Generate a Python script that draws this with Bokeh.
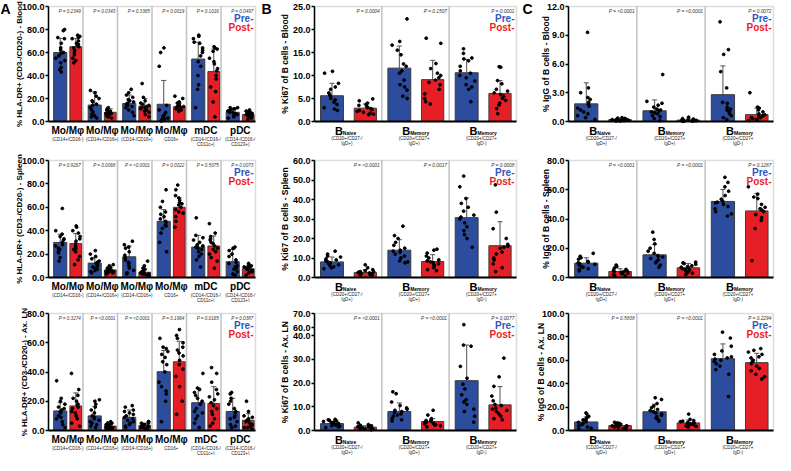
from bokeh.plotting import figure
from bokeh.models import (ColumnDataSource, Range1d, FixedTicker, PrintfTickFormatter,
                          CustomJSTickFormatter, BoxAnnotation, Label, Whisker, TeeHead,
                          CustomJSTransform)
from bokeh.transform import jitter, transform
from bokeh.layouts import gridplot
from bokeh.embed import file_html
from bokeh.resources import INLINE

# ---------------- categories / labels ----------------
A_LABELS = ["Mo/Mφ", "Mo/Mφ", "Mo/Mφ", "Mo/Mφ", "mDC", "pDC"]
A_SUB1 = ["(CD14+/CD16-)", "(CD14+/CD16+)", "(CD14-/CD16+)", "CD16+", "(CD14-/CD16-/", "(CD14-/CD16-/"]
A_SUB2 = ["", "", "", "", "CD11c+)", "CD123+)"]
B_LABELS = ["B", "B", "B"]
B_SUBSCRIPTS = ["Naive", "Memory", "Memory"]
B_SUB1 = ["(CD20+/CD27-/", "(CD20+/CD27+", "(CD20+/CD27+"]
B_SUB2 = ["IgD+)", "IgD+)", "IgD-)"]
LEGEND = ["Pre-", "Post-"]

# ---------------- Panel A : HLA-DR+ ----------------
A1_YLABEL = "% HLA-DR+ (CD3-/CD20-) - Blood"
A1_YTICKS = [0, 20, 40, 60, 80, 100]
A1_P = ["0.2349", "0.0343", "0.3365", "0.0019", "0.1016", "0.0497"]
A1_PRE_MEAN = [60.0, 14.3, 15.7, 15.0, 54.3, 8.0]
A1_PRE_SD = [12.3, 11.4, 7.3, 20.7, 14.7, 3.0]
A1_POST_MEAN = [65.0, 8.0, 13.5, 12.9, 43.4, 6.0]
A1_POST_SD = [7.0, 3.0, 6.5, 3.1, 19.6, 3.0]
A1_PRE_PTS = [
    [80, 79, 73, 72, 68, 64, 62, 60, 59, 57, 55, 53, 51, 47, 45, 43],
    [27, 25, 22, 20, 18, 17, 15, 14, 12, 10, 8, 6, 5, 4, 3],
    [28, 25, 23, 21, 19, 18, 17, 16, 15, 14, 13, 12, 10, 8, 5],
    [64, 60, 48, 14, 10, 8, 6, 5, 4, 3, 2, 2, 1, 1, 0.5],
    [75, 74, 72, 69, 68, 64, 62, 60, 57, 52, 48, 40, 32, 28, 12],
    [12, 12, 11, 11, 10, 10, 9, 9, 8, 8, 7, 6, 5, 4, 3],
]
A1_POST_PTS = [
    [75, 74, 73, 72, 70, 68, 67, 66, 65, 64, 62, 60, 58, 55, 53, 51],
    [12, 11, 10, 9, 9, 8, 8, 7, 7, 6, 6, 5, 5, 4, 3],
    [33, 21, 18, 16, 15, 14, 13, 12, 12, 11, 10, 9, 8, 6, 4],
    [22, 20, 17, 16, 15, 14, 13, 13, 12, 12, 11, 11, 10, 10, 9],
    [65, 64, 63, 61, 55, 52, 50, 46, 44, 40, 37, 30, 26, 17, 4],
    [10, 9, 9, 8, 8, 7, 7, 6, 6, 5, 5, 4, 4, 3, 2],
]

A2_YLABEL = "% HLA-DR+ (CD3-/CD20-) - Spleen"
A2_YTICKS = [0, 20, 40, 60, 80, 100]
A2_P = ["0.9267", "0.0068", "<0.0001", "0.0022", "0.5075", "0.0073"]
A2_PRE_MEAN = [30.0, 12.3, 17.7, 48.0, 26.0, 13.5]
A2_PRE_SD = [7.0, 4.7, 9.3, 10.0, 10.0, 10.5]
A2_POST_MEAN = [29.0, 6.5, 4.5, 60.0, 27.0, 7.5]
A2_POST_SD = [8.5, 2.0, 2.5, 8.0, 8.5, 2.5]
A2_PRE_PTS = [
    [59, 40, 37, 35, 33, 32, 30, 28, 27, 25, 24, 22, 21, 17, 14],
    [23, 20, 18, 16, 14, 13, 12, 11, 10, 9, 8, 7, 6, 5, 4],
    [31, 28, 26, 25, 22, 19, 17, 15, 13, 12, 10, 8, 6, 4, 3],
    [75, 65, 60, 56, 54, 52, 50, 48, 47, 45, 44, 42, 38, 30, 22],
    [51, 36, 34, 32, 30, 28, 27, 26, 25, 24, 22, 20, 18, 15, 9],
    [26, 25, 23, 20, 18, 15, 13, 12, 10, 9, 8, 7, 5, 3, 2],
]
A2_POST_PTS = [
    [44, 43, 40, 38, 35, 33, 31, 29, 27, 25, 24, 22, 18, 15, 11],
    [11, 10, 9, 8, 7, 7, 6, 6, 6, 5, 5, 5, 4, 4, 3],
    [14, 10, 8, 7, 6, 5, 4, 4, 4, 3, 3, 3, 2, 2, 1],
    [79, 75, 70, 68, 66, 64, 63, 62, 60, 58, 56, 55, 52, 48, 43],
    [46, 38, 35, 33, 32, 30, 29, 27, 25, 24, 22, 20, 17, 14, 8],
    [12, 11, 10, 9, 9, 8, 8, 7, 7, 6, 6, 5, 5, 4, 2],
]

A3_YLABEL = "% HLA-DR+ (CD3-/CD20-) - Ax. LN"
A3_YTICKS = [0, 20, 40, 60, 80]
A3_P = ["0.3274", "<0.0001", "<0.0001", "0.1964", "0.0165", "0.0387"]
A3_PRE_MEAN = [13.4, 10.0, 9.0, 40.2, 19.0, 13.0]
A3_PRE_SD = [5.6, 6.5, 5.0, 14.5, 10.0, 9.0]
A3_POST_MEAN = [16.8, 3.0, 3.5, 47.0, 18.5, 7.0]
A3_POST_SD = [8.9, 2.0, 1.5, 14.0, 11.5, 4.5]
A3_PRE_PTS = [
    [34, 22, 20, 18, 16, 15, 14, 13, 12, 10, 9, 8, 6, 4, 2],
    [21, 20, 18, 16, 14, 12, 10, 9, 8, 7, 6, 5, 4, 3, 2],
    [17, 16, 14, 13, 12, 11, 10, 9, 8, 7, 6, 5, 4, 3, 2],
    [63, 57, 56, 54, 52, 50, 47, 45, 40, 33, 30, 27, 25, 20, 6],
    [39, 29, 28, 26, 24, 22, 20, 18, 15, 13, 12, 10, 8, 5, 2],
    [26, 25, 22, 20, 18, 15, 13, 12, 10, 9, 8, 6, 4, 3, 2],
]
A3_POST_PTS = [
    [39, 28, 24, 22, 20, 18, 17, 16, 15, 13, 12, 10, 8, 5, 3],
    [6, 5, 5, 5, 4, 4, 3, 3, 3, 2, 2, 2, 2, 1, 1],
    [6, 6, 5, 5, 4, 4, 4, 3, 3, 3, 2, 2, 2, 1, 1],
    [69, 65, 63, 60, 57, 55, 53, 51, 48, 45, 42, 37, 30, 20, 11],
    [43, 39, 33, 28, 25, 23, 21, 19, 17, 15, 13, 11, 8, 5, 3],
    [20, 13, 10, 9, 8, 7, 7, 6, 5, 4, 4, 3, 2, 2, 1],
]

# ---------------- Panel B : Ki67 ----------------
B1_YLABEL = "% Ki67 of B cells - Blood"
B1_YTICKS = [0, 5, 10, 15, 20, 25]
B1_P = ["0.0004", "0.1507", "0.0001"]
B1_PRE_MEAN = [5.6, 11.6, 10.6]
B1_PRE_SD = [2.7, 4.8, 2.9]
B1_POST_MEAN = [2.9, 9.1, 6.1]
B1_POST_SD = [0.9, 4.2, 2.8]
B1_PRE_PTS = [
    [10.9, 10.5, 8.3, 7.5, 7.0, 6.2, 5.8, 5.5, 5.0, 4.7, 4.2, 3.7, 3.0, 2.7, 2.4],
    [22.3, 17.4, 16.6, 15.5, 14.5, 12.5, 12.0, 11.0, 10.5, 9.0, 8.0, 7.5, 6.8, 5.5, 5.0],
    [15.8, 14.8, 13.8, 13.6, 13.2, 12.0, 11.0, 10.5, 10.0, 9.5, 8.8, 8.0, 7.5, 7.0, 4.3],
]
B1_POST_PTS = [
    [4.9, 4.5, 4.0, 3.7, 3.5, 3.2, 3.0, 2.8, 2.6, 2.4, 2.2, 2.0, 1.8, 1.6, 1.5],
    [18.1, 17.0, 12.6, 11.5, 10.5, 10.0, 9.5, 9.0, 8.5, 8.0, 7.0, 6.0, 5.0, 4.3, 3.8],
    [11.9, 11.8, 8.9, 8.2, 7.0, 6.6, 6.2, 5.8, 5.5, 5.0, 4.6, 4.0, 3.6, 2.8, 1.7],
]

B2_YLABEL = "% Ki67 of B cells - Spleen"
B2_YTICKS = [0, 10, 20, 30, 40, 50, 60]
B2_P = ["<0.0001", "0.0017", "0.0008"]
B2_PRE_MEAN = [8.0, 14.0, 30.7]
B2_PRE_SD = [2.5, 5.4, 10.1]
B2_POST_MEAN = [2.6, 8.2, 16.3]
B2_POST_SD = [1.4, 3.5, 12.3]
B2_PRE_PTS = [
    [13.5, 12, 11, 10.5, 9.5, 9, 8.5, 8, 7.5, 7, 6.5, 6, 5.5, 5, 4.5],
    [26.3, 21.5, 20, 18, 16.5, 15, 14, 13.5, 13, 12, 11, 10, 8.5, 8, 7.5],
    [52, 46.5, 40.5, 38, 36, 34, 32, 31, 30, 28, 26, 24, 22, 20, 15.5],
]
B2_POST_PTS = [
    [6.5, 5, 4, 3.5, 3, 3, 2.7, 2.5, 2.3, 2, 2, 1.8, 1.5, 1.2, 1],
    [14.5, 14, 12.5, 11, 10, 9, 8.5, 8, 7.5, 7, 6.5, 6, 5, 4, 3.5],
    [47.5, 33.5, 25, 20, 17, 16, 15.5, 15, 13, 12, 10, 9, 7, 5, 3],
]

B3_YLABEL = "% Ki67 of B cells - Ax. LN"
B3_YTICKS = [0, 10, 20, 30, 40, 60, 70]
B3_P = ["<0.0001", "<0.0001", "0.0077"]
B3_PRE_MEAN = [2.9, 8.0, 21.0]
B3_PRE_SD = [0.9, 3.6, 15.0]
B3_POST_MEAN = [1.4, 3.8, 10.8]
B3_POST_SD = [0.6, 1.2, 7.7]
B3_PRE_PTS = [
    [4.7, 4.5, 4.3, 4.0, 3.8, 3.5, 3.3, 3.0, 2.8, 2.5, 2.3, 2.0, 1.8, 1.5, 1.2],
    [16.3, 15.5, 12, 10.5, 9.5, 9, 8.5, 8, 7.5, 7, 6.5, 6, 5, 4.5, 4],
    [62, 36, 35.5, 27, 22, 19.5, 17.5, 15, 13, 12, 11, 9, 8, 6, 3.5],
]
B3_POST_PTS = [
    [3.2, 2.5, 2.2, 2, 1.8, 1.6, 1.5, 1.4, 1.2, 1, 0.9, 0.8, 0.6, 0.5, 0.3],
    [8.5, 6.5, 5, 4.5, 4.2, 4, 3.8, 3.5, 3.2, 3, 2.8, 2.5, 2.2, 2, 1.5],
    [30.5, 22.6, 18.6, 14.5, 12.5, 11, 10.5, 9.5, 9, 8.5, 8, 7, 6, 5, 4.5],
]

# ---------------- Panel C : IgG ----------------
C1_YLABEL = "% IgG of B cells - Blood"
C1_YTICKS = [0, 3, 6, 9, 12]
C1_P = ["<0.0001", "<0.0001", "0.0072"]
C1_PRE_MEAN = [1.84, 1.12, 2.8]
C1_PRE_SD = [2.2, 1.13, 3.0]
C1_POST_MEAN = [0.2, 0.15, 0.72]
C1_POST_SD = [0.1, 0.1, 0.68]
C1_PRE_PTS = [
    [9.3, 3.5, 3.0, 2.5, 2.3, 2.0, 1.8, 1.6, 1.4, 1.2, 1.0, 0.8, 0.6, 0.4, 0.2],
    [4.9, 2.1, 1.9, 1.7, 1.5, 1.3, 1.2, 1.1, 1.0, 0.9, 0.8, 0.6, 0.5, 0.3, 0.1],
    [10.4, 7.5, 7.0, 5.2, 3.5, 2.0, 1.9, 1.5, 1.3, 1.2, 1.0, 0.8, 0.6, 0.4, 0.2],
]
C1_POST_PTS = [
    [0.4, 0.35, 0.3, 0.3, 0.25, 0.2, 0.2, 0.2, 0.15, 0.15, 0.1, 0.1, 0.1, 0.05, 0.05],
    [0.45, 0.3, 0.25, 0.2, 0.2, 0.15, 0.15, 0.1, 0.1, 0.1, 0.1, 0.05, 0.05, 0.05, 0.02],
    [3.0, 1.5, 1.4, 1.2, 1.0, 0.8, 0.7, 0.6, 0.5, 0.4, 0.4, 0.3, 0.2, 0.15, 0.1],
]

C2_YLABEL = "% IgG of B cells - Spleen"
C2_YTICKS = [0, 20, 40, 60, 80]
C2_P = ["<0.0001", "<0.0001", "0.1287"]
C2_PRE_MEAN = [9.8, 15.5, 52.0]
C2_PRE_SD = [3.7, 7.0, 8.2]
C2_POST_MEAN = [4.1, 6.6, 45.5]
C2_POST_SD = [1.9, 2.9, 12.0]
C2_PRE_PTS = [
    [16.5, 14.5, 13.5, 12.5, 11, 10.5, 10, 9.5, 9, 8.5, 7.5, 7, 6, 5.5, 4.5],
    [31, 26, 23, 20, 18, 16.5, 15, 14.5, 14, 13, 12, 11, 10, 8.5, 7],
    [68.5, 65, 62, 59, 56, 53.5, 52, 51.5, 51, 50, 48.5, 47, 45, 43.5, 42],
]
C2_POST_PTS = [
    [8.5, 7.5, 6.5, 5.5, 5, 4.5, 4, 4, 3.5, 3, 3, 2.5, 2, 1.5, 1],
    [10.5, 10, 9.5, 9, 8, 7.5, 7, 6.5, 6, 5.5, 5, 4.5, 3.5, 3, 2],
    [62, 57, 55, 54, 50, 48, 47, 46.5, 46, 45, 43, 41, 39, 33.5, 11.5],
]

C3_YLABEL = "% IgG of B cells - Ax. LN"
C3_YTICKS = [0, 20, 40, 60, 80, 100]
C3_P = ["0.5838", "<0.0001", "0.2294"]
C3_PRE_MEAN = [7.3, 16.0, 61.4]
C3_PRE_SD = [4.2, 6.5, 12.6]
C3_POST_MEAN = [4.2, 6.5, 58.0]
C3_POST_SD = [1.8, 2.5, 8.0]
C3_PRE_PTS = [
    [15, 14, 12, 11, 10, 9, 8, 7.5, 7, 6, 5, 4, 3, 2, 1.5],
    [28, 26.5, 23, 21, 19.5, 18, 17, 16, 15, 14, 13, 12, 10.5, 9, 8],
    [84, 79, 72, 68, 65, 63, 62, 61, 60, 59, 57, 55, 52, 48, 29],
]
C3_POST_PTS = [
    [7, 6.5, 6, 5.5, 5, 5, 4.5, 4.5, 4, 4, 3.5, 3, 2.5, 2, 1.5],
    [14, 9.5, 8.5, 8, 7.5, 7, 6.5, 6, 6, 5.5, 5, 4.5, 4, 3.5, 3],
    [70, 68.5, 67, 65, 63, 62, 60, 59, 57, 55, 53, 51, 48, 46, 44],
]

# ---------------- style / layout ----------------
FONT = "Liberation Sans"
BLUE = "#2C4C9E"
RED = "#E61E26"
BLUE_TXT = "#2F57BD"
RED_TXT = "#EE1C25"
GRAY = "#8a8a8a"
COL_W = [258, 262, 255]      # figure widths
COL_LEFT = [48, 56, 48]      # px from figure left to the y axis
COL_RIGHT = [3, 4, 2]        # px right of the plot box
COL_LSTAND = [-5, 0, -7]     # y-axis label standoff
COL_LSIZE = ["8px", "8.5px", "8.5px"]
COL_LETTER_X = [0, 3, 2]
ROW_TOP = [6, 9, 11]
ROW_PLOT = [115, 117, 117]
ROW_BOTTOM = [30, 25, 25]

# broken axis (40 -> 60) used in the Ki67 Ax. LN panel
BRK_LO, BRK_HI, BRK_POS, BRK_K = 40, 60, 43.4, 0.59


def brk(v):
    return v if v <= BRK_LO else BRK_POS + (v - BRK_HI) * BRK_K


BRK_JS = CustomJSTransform(
    func=f"return x <= {BRK_LO} ? x : {BRK_POS} + (x - {BRK_HI}) * {BRK_K};",
    v_func=f"""
const out = new Float64Array(xs.length);
for (let i = 0; i < xs.length; i++) {{
  const v = xs[i];
  out[i] = v <= {BRK_LO} ? v : {BRK_POS} + (v - {BRK_HI}) * {BRK_K};
}}
return out;
""")


def txt(p, text, x, y, size, color="black", style="normal", align="center", x_offset=0,
        x_units="data"):
    p.add_layout(Label(x=x, x_units=x_units, y=y, y_units="screen", x_offset=x_offset,
                       text=text, text_align=align, text_baseline="top", text_font=FONT,
                       text_font_size=size, text_font_style=style, text_color=color))


def panel(kind, col, row, pre_mean, pre_sd, post_mean, post_sd, pre_pts, post_pts,
          pvals, yticks, ylabel, letter=None, broken=False):
    isA = kind == "A"
    labels = A_LABELS if isA else B_LABELS
    n = len(labels)
    pre_off, post_off = (0.34, 0.79) if isA else (0.26, 0.755)
    pre_w, post_w = (0.38, 0.34) if isA else (0.34, 0.33)
    lab_pos = 0.56 if isA else 0.48

    W = COL_W[col]
    L, R = COL_LEFT[col], COL_RIGHT[col]
    F = W - L - R
    T, P, B = ROW_TOP[row], ROW_PLOT[row], ROW_BOTTOM[row]
    H = T + P + B
    yend = brk(yticks[-1]) if broken else yticks[-1]
    xr = Range1d(-L / F * n, n + R / F * n)
    yr = Range1d(-B / P * yend, yend + T / P * yend)

    p = figure(width=W, height=H, x_range=xr, y_range=yr,
               output_backend="svg", toolbar_location=None, min_border=0)
    p.xgrid.visible = False
    p.ygrid.visible = False
    p.outline_line_color = None
    p.background_fill_color = "white"
    p.border_fill_color = "white"

    # plot box + group separators
    for i in range(n):
        p.add_layout(BoxAnnotation(left=i, right=i + 1, bottom=0, top=yend, fill_alpha=0,
                                   line_color=GRAY, line_width=1.5, level="underlay"))

    # x axis (baseline only)
    xax = p.xaxis[0]
    xax.fixed_location = 0
    xax.bounds = (0, n)
    xax.ticker = FixedTicker(ticks=[])
    xax.major_label_text_font_size = "0px"
    xax.axis_line_width = 2
    xax.axis_line_color = "black"
    xax.major_tick_line_color = None
    xax.minor_tick_line_color = None

    # y axis
    yax = p.yaxis[0]
    yax.fixed_location = 0
    yax.bounds = (0, yend)
    if broken:
        yax.ticker = FixedTicker(ticks=[brk(t) for t in yticks])
        yax.formatter = CustomJSTickFormatter(
            code=f"return (tick <= {BRK_LO} ? tick : (tick - {BRK_POS}) / {BRK_K} + {BRK_HI}).toFixed(1);")
    else:
        yax.ticker = FixedTicker(ticks=yticks)
        yax.formatter = PrintfTickFormatter(format="%.1f")
    yax.axis_line_width = 1.5
    yax.axis_line_color = "black"
    yax.major_tick_out = 3
    yax.major_tick_in = 0
    yax.major_tick_line_width = 1.5
    yax.major_tick_line_color = "black"
    yax.minor_tick_line_color = None
    yax.major_label_standoff = 1
    yax.major_label_text_font = FONT
    yax.major_label_text_font_size = "9px"
    yax.major_label_text_font_style = "bold"
    yax.major_label_text_color = "black"
    yax.axis_label = ylabel
    yax.axis_label_text_font = FONT
    yax.axis_label_text_font_size = COL_LSIZE[col]
    yax.axis_label_text_font_style = "bold"
    yax.axis_label_text_color = "black"
    yax.axis_label_standoff = COL_LSTAND[col]

    def ymap(name):
        return transform(name, BRK_JS) if broken else name

    for means, sds, pts, off, w, color in (
            (pre_mean, pre_sd, pre_pts, pre_off, pre_w, BLUE),
            (post_mean, post_sd, post_pts, post_off, post_w, RED)):
        xs = [i + off for i in range(n)]
        src = ColumnDataSource(dict(x=xs, mean=means, up=[m + s for m, s in zip(means, sds)]))
        p.vbar(x="x", width=w, top=ymap("mean"), bottom=0, source=src,
               fill_color=color, line_color="#3c3c3c", line_width=1)
        p.add_layout(Whisker(base="x", upper="up", lower="mean", source=src, dimension="height",
                             line_color="#505050", line_width=1,
                             upper_head=TeeHead(size=5, line_color="#505050", line_width=1),
                             lower_head=None))
        px, pv = [], []
        for i, grp in enumerate(pts):
            for v in grp:
                px.append(i + off)
                pv.append(v)
        psrc = ColumnDataSource(dict(x=px, v=pv))
        p.scatter(x=jitter("x", width=w * 0.75, distribution="uniform"), y=ymap("v"),
                  size=2.8, color="black", source=psrc)

    top_s = B + P   # screen y of the plot-box top (from figure bottom)
    # P values
    for i, pv in enumerate(pvals):
        txt(p, f"P = {pv}", i + 1, top_s - 2, "4.6px" if isA else "4.8px", "#333333",
            "italic", "right", -2)
    # legend
    txt(p, LEGEND[0], n, top_s - 6, "10px", BLUE_TXT, "bold", "right", -2)
    txt(p, LEGEND[1], n, top_s - 15, "10px", RED_TXT, "bold", "right", -2)

    # x category labels
    for i in range(n):
        xc = i + lab_pos
        if isA:
            txt(p, A_LABELS[i], xc, B - 3, "10px", "black", "bold")
            s1, s2, y1 = A_SUB1[i], A_SUB2[i], B - 15
        else:
            txt(p, B_LABELS[i], xc, B - 3, "11px", "black", "bold", "right", -4)
            txt(p, B_SUBSCRIPTS[i], xc, B - 8.5, "5px", "black", "bold", "left", -4)
            s1, s2, y1 = B_SUB1[i], B_SUB2[i], B - 14
        txt(p, s1, xc, y1, "4.5px", "#222222")
        if s2:
            txt(p, s2, xc, y1 - 5, "4.5px", "#222222")

    if letter:
        txt(p, letter, COL_LETTER_X[col], H, "14px", "black", "bold", "left", 0, x_units="screen")
    return p


a1 = panel("A", 0, 0, A1_PRE_MEAN, A1_PRE_SD, A1_POST_MEAN, A1_POST_SD, A1_PRE_PTS, A1_POST_PTS,
           A1_P, A1_YTICKS, A1_YLABEL, letter="A")
a2 = panel("A", 0, 1, A2_PRE_MEAN, A2_PRE_SD, A2_POST_MEAN, A2_POST_SD, A2_PRE_PTS, A2_POST_PTS,
           A2_P, A2_YTICKS, A2_YLABEL)
a3 = panel("A", 0, 2, A3_PRE_MEAN, A3_PRE_SD, A3_POST_MEAN, A3_POST_SD, A3_PRE_PTS, A3_POST_PTS,
           A3_P, A3_YTICKS, A3_YLABEL)
b1 = panel("B", 1, 0, B1_PRE_MEAN, B1_PRE_SD, B1_POST_MEAN, B1_POST_SD, B1_PRE_PTS, B1_POST_PTS,
           B1_P, B1_YTICKS, B1_YLABEL, letter="B")
b2 = panel("B", 1, 1, B2_PRE_MEAN, B2_PRE_SD, B2_POST_MEAN, B2_POST_SD, B2_PRE_PTS, B2_POST_PTS,
           B2_P, B2_YTICKS, B2_YLABEL)
b3 = panel("B", 1, 2, B3_PRE_MEAN, B3_PRE_SD, B3_POST_MEAN, B3_POST_SD, B3_PRE_PTS, B3_POST_PTS,
           B3_P, B3_YTICKS, B3_YLABEL, broken=True)
c1 = panel("C", 2, 0, C1_PRE_MEAN, C1_PRE_SD, C1_POST_MEAN, C1_POST_SD, C1_PRE_PTS, C1_POST_PTS,
           C1_P, C1_YTICKS, C1_YLABEL, letter="C")
c2 = panel("C", 2, 1, C2_PRE_MEAN, C2_PRE_SD, C2_POST_MEAN, C2_POST_SD, C2_PRE_PTS, C2_POST_PTS,
           C2_P, C2_YTICKS, C2_YLABEL)
c3 = panel("C", 2, 2, C3_PRE_MEAN, C3_PRE_SD, C3_POST_MEAN, C3_POST_SD, C3_PRE_PTS, C3_POST_PTS,
           C3_P, C3_YTICKS, C3_YLABEL)

grid = gridplot([[a1, b1, c1], [a2, b2, c2], [a3, b3, c3]], toolbar_location=None)

open("out.html", "w").write(file_html(grid, INLINE, title="HLA-DR / Ki67 / IgG"))
